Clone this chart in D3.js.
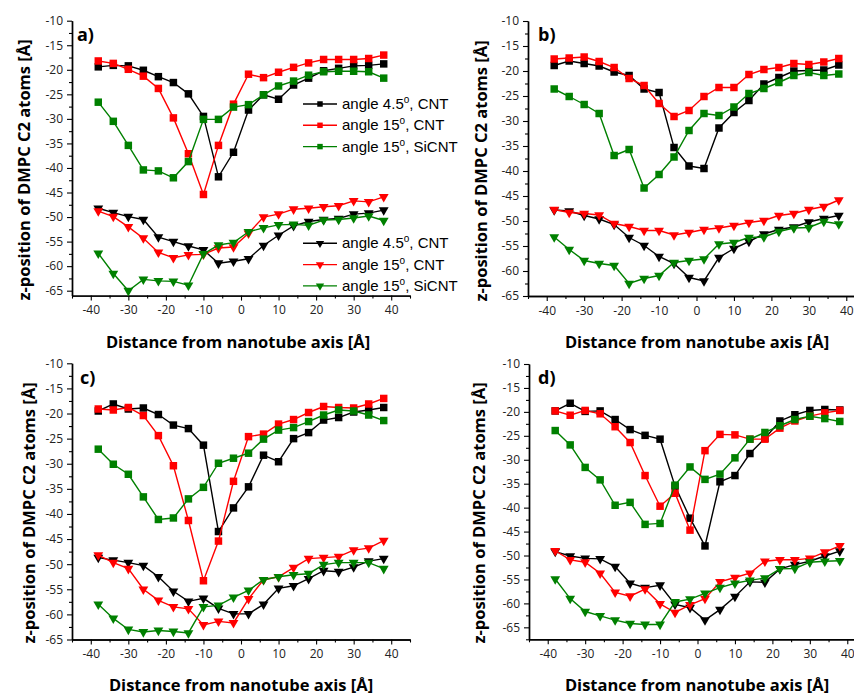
<!DOCTYPE html>
<html>
<head>
<meta charset="utf-8">
<script src="https://cdn.jsdelivr.net/npm/d3@7"></script>
<style>
body { margin: 0; background: #fff; }
</style>
</head>
<body>
<script>
// distance from nanotube axis, same for every series
var distances = [-38,-34,-30,-26,-22,-18,-14,-10,-6,-2,2,6,10,14,18,22,26,30,34,38];
var xTicks = [-40,-30,-20,-10,0,10,20,30,40];
var yTicks = [-10,-15,-20,-25,-30,-35,-40,-45,-50,-55,-60,-65];
var panelNames = ['a)','b)','c)','d)'];
var legendAngles = ['4.5','15','15'];
var legendTubes = ['CNT','CNT','SiCNT'];
var colors = ['#000000','#ff0000','#008000'];

// panel a
var a_sq45 = [-19.4,-19.1,-19.2,-20.1,-21.4,-22.6,-24.9,-29.5,-41.8,-36.8,-28.2,-25.1,-26.0,-23.1,-21.7,-20.2,-19.7,-19.2,-19.1,-18.8];
var a_sq15 = [-18.2,-18.7,-19.9,-21.3,-23.8,-29.8,-37.1,-45.4,-35.4,-27.0,-20.9,-21.6,-20.5,-19.5,-18.6,-17.9,-17.9,-17.9,-17.7,-17.0];
var a_sq15si = [-26.6,-30.5,-35.4,-40.4,-40.6,-42.0,-38.7,-30.1,-30.1,-27.6,-27.1,-25.1,-23.3,-22.3,-21.1,-20.4,-20.3,-20.3,-20.4,-21.7];
var a_tr45 = [-48.2,-49.1,-49.9,-50.5,-54.1,-55.0,-55.9,-56.7,-59.4,-59.0,-58.5,-55.8,-53.7,-51.8,-50.9,-50.5,-50.3,-49.4,-49.2,-48.6];
var a_tr15 = [-48.8,-49.9,-52.0,-54.3,-57.2,-58.3,-57.7,-57.6,-56.3,-56.1,-53.3,-50.0,-49.4,-48.4,-48.2,-47.9,-47.7,-46.7,-46.9,-45.9];
var a_tr15si = [-57.4,-61.5,-65.0,-62.7,-63.0,-63.1,-63.9,-57.5,-55.7,-55.2,-53.0,-52.2,-51.6,-51.5,-51.7,-50.6,-50.5,-50.2,-49.8,-50.7];

// panel b
var b_sq45 = [-18.9,-18.0,-18.5,-19.0,-20.2,-20.9,-23.6,-24.3,-35.3,-39.0,-39.5,-31.4,-28.3,-25.9,-22.6,-21.3,-20.0,-19.9,-19.8,-18.8];
var b_sq15 = [-17.6,-17.4,-17.2,-18.1,-19.3,-21.5,-22.9,-26.5,-29.1,-27.9,-25.1,-23.3,-23.3,-20.7,-19.7,-19.3,-18.5,-18.7,-18.2,-17.5];
var b_sq15si = [-23.6,-25.1,-26.7,-28.5,-36.9,-35.7,-43.4,-40.7,-37.2,-31.9,-28.5,-28.9,-27.2,-24.5,-23.5,-22.3,-20.9,-20.3,-20.9,-20.6];
var b_tr45 = [-47.8,-48.0,-48.9,-49.6,-50.7,-53.3,-54.9,-57.1,-58.5,-61.3,-62.0,-57.3,-55.5,-54.1,-52.6,-51.7,-51.2,-50.2,-49.5,-48.9];
var b_tr15 = [-47.7,-48.3,-48.5,-48.8,-50.5,-51.1,-51.9,-51.9,-52.8,-52.3,-51.7,-51.4,-50.9,-50.3,-49.9,-48.9,-48.5,-47.7,-47.1,-45.8];
var b_tr15si = [-53.2,-55.7,-57.9,-58.5,-58.9,-62.5,-61.5,-60.9,-58.3,-57.9,-57.6,-54.6,-54.3,-53.3,-53.2,-52.1,-51.4,-51.3,-50.1,-50.6];

// panel c
var c_sq45 = [-19.5,-18.1,-19.1,-18.9,-20.2,-22.3,-23.0,-26.3,-43.5,-38.8,-34.6,-28.3,-29.6,-25.0,-23.8,-21.3,-20.8,-19.7,-19.3,-18.8];
var c_sq15 = [-19.1,-19.3,-18.8,-20.4,-24.4,-30.4,-41.3,-53.3,-45.4,-33.5,-24.6,-24.1,-22.1,-21.2,-19.8,-18.6,-18.8,-18.9,-18.1,-17.0];
var c_sq15si = [-27.1,-30.1,-32.1,-36.6,-41.1,-40.8,-37.0,-34.7,-29.9,-28.9,-27.9,-25.1,-23.3,-22.8,-21.6,-20.3,-19.3,-19.5,-20.3,-21.4];
var c_tr45 = [-48.7,-49.2,-49.7,-50.3,-52.5,-55.4,-57.4,-56.8,-58.8,-59.9,-59.9,-58.0,-54.8,-54.3,-52.9,-51.3,-51.5,-50.6,-49.4,-48.9];
var c_tr15 = [-48.2,-49.7,-50.9,-55.0,-57.2,-58.5,-58.9,-62.1,-61.4,-61.7,-56.9,-53.1,-52.5,-50.7,-48.9,-48.7,-48.5,-47.2,-46.8,-45.3];
var c_tr15si = [-58.0,-60.8,-63.0,-63.5,-63.2,-63.4,-63.7,-58.5,-58.2,-56.6,-55.2,-53.1,-52.5,-52.1,-51.9,-50.1,-49.7,-49.7,-49.7,-50.9];

// panel d
var d_sq45 = [-19.8,-18.2,-19.9,-19.8,-21.6,-23.7,-24.9,-25.7,-35.5,-42.2,-48.0,-34.6,-33.3,-28.7,-25.5,-21.9,-20.6,-19.7,-19.5,-19.6];
var d_sq15 = [-19.8,-20.7,-19.7,-20.4,-23.1,-26.4,-33.3,-39.7,-37.0,-44.7,-28.1,-24.7,-24.8,-25.7,-25.7,-23.4,-21.9,-20.9,-20.2,-19.7];
var d_sq15si = [-23.9,-26.9,-31.6,-34.2,-39.5,-38.9,-43.5,-43.3,-35.3,-31.5,-34.1,-33.0,-29.6,-25.7,-24.3,-22.9,-21.6,-20.9,-21.4,-22.0];
var d_tr45 = [-49.2,-50.1,-50.6,-50.7,-52.3,-55.8,-56.7,-56.2,-60.2,-60.9,-63.5,-61.3,-58.6,-55.5,-55.6,-52.8,-51.9,-51.2,-50.1,-49.1];
var d_tr15 = [-49.0,-50.9,-51.4,-53.7,-57.7,-58.5,-57.0,-60.1,-61.9,-60.3,-59.0,-55.5,-54.6,-53.7,-51.2,-50.9,-50.9,-50.6,-49.3,-48.0];
var d_tr15si = [-54.9,-59.0,-61.7,-62.6,-63.5,-64.2,-64.4,-64.4,-59.7,-59.1,-57.9,-56.7,-55.8,-55.2,-54.7,-52.8,-52.7,-51.4,-51.2,-51.1];

var panels = [
  {name: panelNames[0], left: 72, right: 410, top: 20.7, bottom: 295.6, yMin: -66,
   sq: [a_sq45, a_sq15, a_sq15si], tr: [a_tr45, a_tr15, a_tr15si],
   lab: [77, 41], yt: [23, 170], xt: [238, 348]},
  {name: panelNames[1], left: 528, right: 865, top: 21, bottom: 296, yMin: -65,
   sq: [b_sq45, b_sq15, b_sq15si], tr: [b_tr45, b_tr15, b_tr15si],
   lab: [538, 41], yt: [480, 171], xt: [697, 348]},
  {name: panelNames[2], left: 72, right: 410, top: 363.3, bottom: 639.5, yMin: -65,
   sq: [c_sq45, c_sq15, c_sq15si], tr: [c_tr45, c_tr15, c_tr15si],
   lab: [80, 384], yt: [28, 513], xt: [241, 691]},
  {name: panelNames[3], left: 529, right: 866, top: 364, bottom: 639.3, yMin: -67.5,
   sq: [d_sq45, d_sq15, d_sq15si], tr: [d_tr45, d_tr15, d_tr15si],
   lab: [538, 384], yt: [478, 513], xt: [697, 691]}
];

var svg = d3.select('body').append('svg').attr('width', 854).attr('height', 696);

var square = d3.symbol().type(d3.symbolSquare).size(56);
var triangle = d3.symbol().type(d3.symbolTriangle).size(42);

function styleAxis(g) {
  g.select('.domain').attr('stroke', '#000').attr('stroke-width', 1.4);
  g.selectAll('.tick line').attr('stroke', '#000').attr('stroke-width', 1.1);
  g.selectAll('.tick text').attr('fill', '#222').style('font-family', '"Open Sans", sans-serif').style('font-size', '12px');
}

function drawPanel(p) {
  var x = d3.scaleLinear().domain([-45, 45]).range([p.left, p.right]);
  var y = d3.scaleLinear().domain([p.yMin, -10]).range([p.bottom, p.top]);
  var g = svg.append('g');

  // minor ticks first, then major ticks with labels
  var xMinor = g.append('g').attr('transform', 'translate(0,' + p.bottom + ')')
    .call(d3.axisBottom(x).tickValues(d3.range(-45, 46, 10)).tickSize(3).tickSizeOuter(0).tickFormat(''));
  var xMajor = g.append('g').attr('transform', 'translate(0,' + p.bottom + ')')
    .call(d3.axisBottom(x).tickValues(xTicks).tickSize(5).tickSizeOuter(0).tickPadding(5).tickFormat(function(d) { return String(d); }));
  var yMinor = g.append('g').attr('transform', 'translate(' + p.left + ',0)')
    .call(d3.axisLeft(y).tickValues(d3.range(-12.5, p.yMin - 0.1, -5)).tickSize(3).tickSizeOuter(0).tickFormat(''));
  var yMajor = g.append('g').attr('transform', 'translate(' + p.left + ',0)')
    .call(d3.axisLeft(y).tickValues(yTicks).tickSize(5).tickSizeOuter(0).tickPadding(4).tickFormat(function(d) { return String(d); }));
  [xMinor, xMajor, yMinor, yMajor].forEach(styleAxis);

  var line = d3.line().x(function(d, i) { return x(distances[i]); }).y(function(d) { return y(d); });

  p.sq.forEach(function(s, k) {
    g.append('path').attr('d', line(s)).attr('fill', 'none').attr('stroke', colors[k]).attr('stroke-width', 1.4);
    g.selectAll(null).data(s).enter().append('path')
      .attr('d', square)
      .attr('transform', function(d, i) { return 'translate(' + x(distances[i]) + ',' + y(d) + ')'; })
      .attr('fill', colors[k]);
  });
  p.tr.forEach(function(s, k) {
    g.append('path').attr('d', line(s)).attr('fill', 'none').attr('stroke', colors[k]).attr('stroke-width', 1.4);
    g.selectAll(null).data(s).enter().append('path')
      .attr('d', triangle)
      .attr('transform', function(d, i) { return 'translate(' + x(distances[i]) + ',' + y(d) + ') rotate(180)'; })
      .attr('fill', colors[k]);
  });

  g.append('text').attr('x', p.lab[0]).attr('y', p.lab[1]).text(p.name)
    .style('font-family', '"Open Sans", sans-serif').style('font-weight', 700).style('font-size', '18px');

  g.append('text').attr('transform', 'translate(' + p.yt[0] + ',' + p.yt[1] + ') rotate(-90)')
    .attr('text-anchor', 'middle').attr('dominant-baseline', 'central')
    .text('z-position of DMPC C2 atoms [Å]')
    .style('font-family', '"Open Sans", sans-serif').style('font-weight', 700).style('font-size', '16.5px');

  g.append('text').attr('x', p.xt[0]).attr('y', p.xt[1]).attr('text-anchor', 'middle')
    .text('Distance from nanotube axis [Å]')
    .style('font-family', '"Open Sans", sans-serif').style('font-weight', 700).style('font-size', '16.5px');
}

function drawLegend(top, marker, rotate) {
  var lg = svg.append('g');
  legendAngles.forEach(function(a, k) {
    var yy = top + k * 21.3;
    lg.append('line').attr('x1', 303).attr('x2', 337).attr('y1', yy).attr('y2', yy)
      .attr('stroke', colors[k]).attr('stroke-width', 1.4);
    lg.append('path').attr('d', marker).attr('fill', colors[k])
      .attr('transform', 'translate(320,' + yy + ')' + (rotate ? ' rotate(180)' : ''));
    var t = lg.append('text').attr('x', 342).attr('y', yy + 5)
      .style('font-family', '"Liberation Sans", Arial, sans-serif').style('font-size', '15px').attr('fill', '#000');
    t.append('tspan').text('angle ' + a);
    t.append('tspan').attr('dy', -6).style('font-size', '10px').text('o');
    t.append('tspan').attr('dy', 6).text(', ' + legendTubes[k]);
  });
}

panels.forEach(drawPanel);
drawLegend(104, d3.symbol().type(d3.symbolSquare).size(30), false);
drawLegend(243.3, d3.symbol().type(d3.symbolTriangle).size(30), true);
</script>
</body>
</html>
